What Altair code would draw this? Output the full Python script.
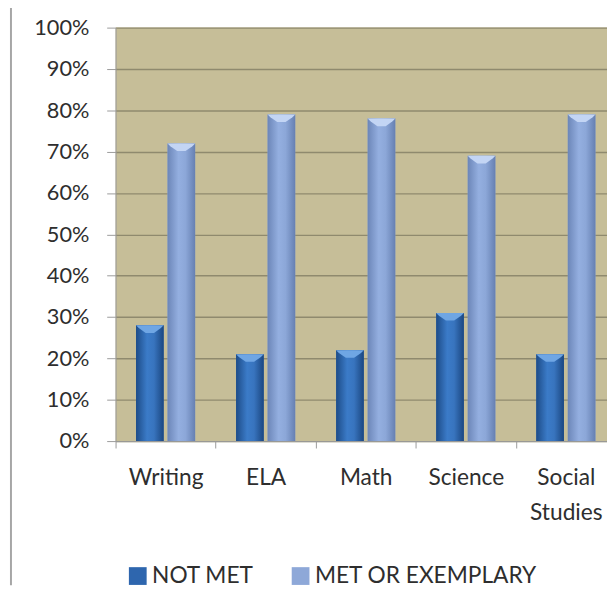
import altair as alt
import pandas as pd

categories = ["Writing", "ELA", "Math", "Science", "Social Studies"]
series = ["NOT MET", "MET OR EXEMPLARY"]
not_met = [0.28, 0.21, 0.22, 0.31, 0.21]
met = [0.72, 0.79, 0.78, 0.69, 0.79]
y_ticks = [0.0, 0.1, 0.2, 0.3, 0.4, 0.5, 0.6, 0.7, 0.8, 0.9, 1.0]

rows = []
for c, a, b in zip(categories, not_met, met):
    rows.append({"subject": c, "status": series[0], "value": a})
    rows.append({"subject": c, "status": series[1], "value": b})
df = pd.DataFrame(rows)

W, H = 498, 419
FONT = "Lato"
TXT = "#2e2e2e"
AXC = "#9a9a9a"

x = alt.X(
    "subject:N",
    sort=categories,
    scale=alt.Scale(domain=categories, range=[0, 507], paddingInner=0, paddingOuter=0),
    axis=alt.Axis(
        title=None, labelAngle=0, tickBand="extent", tickSize=7, labelPadding=19,
        labelFont=FONT, labelFontSize=23, labelColor=TXT,
        labelExpr="split(datum.label, ' ')", labelLineHeight=35,
        domainColor=AXC, tickColor=AXC, grid=False,
    ),
)
xo = alt.XOffset(
    "status:N", sort=series,
    scale=alt.Scale(domain=series, paddingInner=0.125, paddingOuter=0.65),
)
y = alt.Y(
    "value:Q",
    scale=alt.Scale(domain=[0, 1], nice=False),
    axis=alt.Axis(
        values=y_ticks, format=".0%", title=None, tickSize=9, labelPadding=18,
        labelFont=FONT, labelFontSize=22, labelColor=TXT,
        gridColor="#8f8a6e", gridWidth=1.4, domainColor=AXC, tickColor=AXC,
    ),
)

base = alt.Chart(df).encode(x=x, xOffset=xo, y=y)

solid = base.mark_bar().encode(
    color=alt.Color(
        "status:N", sort=series,
        scale=alt.Scale(domain=series, range=["#2E66AE", "#8EA8D8"]),
        legend=alt.Legend(
            title=None, orient="none", legendX=11, legendY=544,
            direction="horizontal", symbolType="square", symbolSize=324,
            labelFont=FONT, labelFontSize=23, labelColor=TXT, labelLimit=500,
            columnPadding=36, labelOffset=3, symbolStrokeWidth=0,
        ),
    )
)

grad_dark = alt.Gradient(
    gradient="linear", x1=0, x2=1, y1=0, y2=0,
    stops=[
        alt.GradientStop(color="#1D4C88", offset=0),
        alt.GradientStop(color="#3B7BC8", offset=0.4),
        alt.GradientStop(color="#3874BE", offset=0.65),
        alt.GradientStop(color="#1B4781", offset=1),
    ],
)
grad_light = alt.Gradient(
    gradient="linear", x1=0, x2=1, y1=0, y2=0,
    stops=[
        alt.GradientStop(color="#6C86B8", offset=0),
        alt.GradientStop(color="#94AFE0", offset=0.4),
        alt.GradientStop(color="#8CA7D8", offset=0.65),
        alt.GradientStop(color="#6680B2", offset=1),
    ],
)

dark = base.mark_bar(fill=grad_dark).transform_filter(alt.datum.status == series[0])
light = base.mark_bar(fill=grad_light).transform_filter(alt.datum.status == series[1])

bevel_path = "M -1 0 L 1 0 L 0.8 0.2 L 0.3 0.55 L -0.3 0.55 L -0.8 0.2 Z"
cap_dark = base.mark_point(shape=bevel_path, size=784, filled=True, fill="#6FA6E4",
                           strokeWidth=0, opacity=1).transform_filter(alt.datum.status == series[0])
cap_light = base.mark_point(shape=bevel_path, size=784, filled=True, fill="#C3D5F4",
                            strokeWidth=0, opacity=1).transform_filter(alt.datum.status == series[1])

border = alt.Chart(pd.DataFrame({"k": [0]})).mark_rule(color="#A6A6A6", strokeWidth=2).encode(
    x=alt.value(-106), y=alt.value(-24), y2=alt.value(H + 146)
)

chart = (
    alt.layer(solid, dark, light, cap_dark, cap_light, border)
    .properties(
        width=W, height=H, background="white",
        autosize=alt.AutoSizeParams(type="none"),
        padding={"left": 109, "top": 16, "right": 0, "bottom": 146},
    )
    .configure_view(fill="#C6BE98", strokeWidth=0)
)

chart.save("out.html", embed_options={"renderer": "svg", "actions": False})
